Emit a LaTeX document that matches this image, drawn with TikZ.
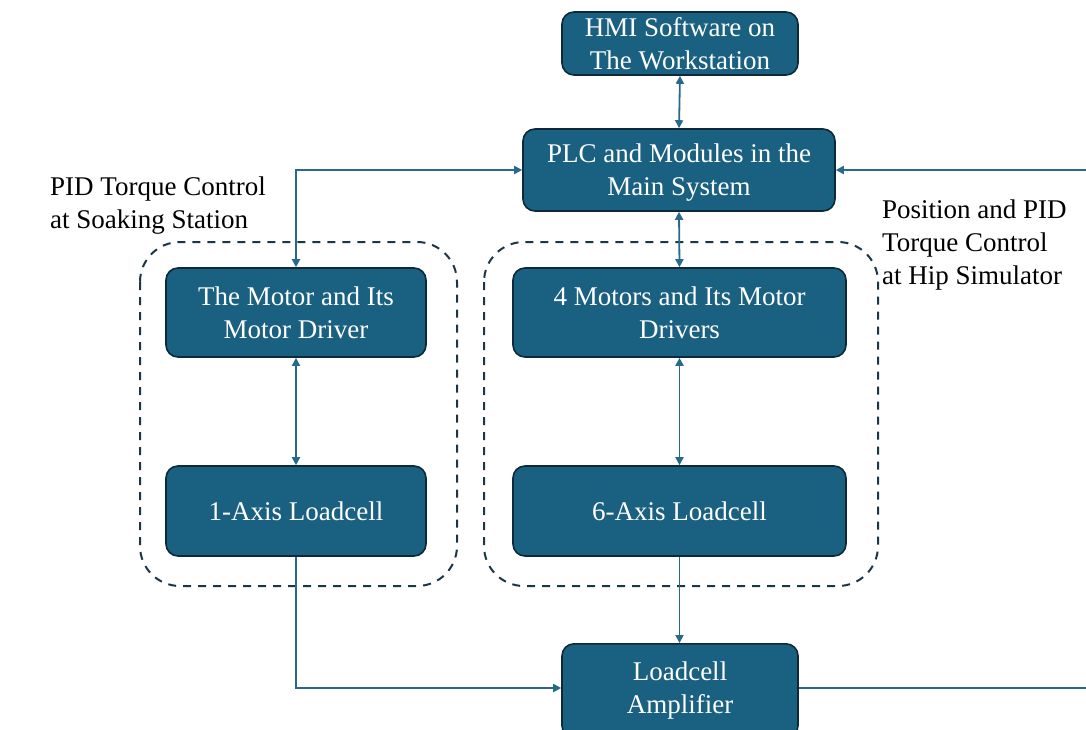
\documentclass[tikz,border=0pt]{standalone}
\usepackage{fontspec}
\setmainfont{Liberation Serif}
\usetikzlibrary{arrows.meta}
\definecolor{boxfill}{HTML}{1A6080}
\definecolor{boxline}{HTML}{0E2A3A}
\definecolor{arrowc}{HTML}{27698A}
\definecolor{dashc}{HTML}{1C3645}
\tikzset{
  blk/.style={draw=boxline, line width=1.6pt, fill=boxfill, rounded corners=12pt,
    text=white, align=center, inner sep=0pt,
    font=\fontsize{27}{33}\selectfont},
  btxt/.style={text=white, align=center, inner sep=0pt, font=\fontsize{27}{33}\selectfont},
  grp/.style={draw=dashc, line width=2pt, dash pattern=on 8pt off 7pt, rounded corners=40pt},
  lbl/.style={align=left, anchor=north west, inner sep=0pt, text=black,
    font=\fontsize{27}{33}\selectfont},
  conn/.style={draw=arrowc, line width=1.8pt},
  biarr/.style={conn, {Triangle[length=8pt,width=8pt]}-{Triangle[length=8pt,width=8pt]}},
  arr/.style={conn, -{Triangle[length=8pt,width=8pt]}}
}
\begin{document}
\begin{tikzpicture}[x=1pt,y=-1pt]
\useasboundingbox (0,0) rectangle (1086,729);
% groups
\draw[grp] (140,242) rectangle (457,586);
\draw[grp] (484,242) rectangle (878,586);
% blocks
\node[blk, minimum width=236pt, minimum height=63pt] (hmi) at (680,43.5) {HMI Software on\\The Workstation};
\node[blk, minimum width=312pt, minimum height=82pt] (plc) at (679,170) {};
\node[btxt] (plctxt) at (679,173) {PLC and Modules in the\\Main System};
\node[blk, minimum width=260pt, minimum height=89pt] (mot1) at (296,312.5) {The Motor and Its\\Motor Driver};
\node[blk, minimum width=260pt, minimum height=90pt] (lc1) at (296,511) {1-Axis Loadcell};
\node[blk, minimum width=333pt, minimum height=89pt] (mot4) at (679.5,312.5) {4 Motors and Its Motor\\Drivers};
\node[blk, minimum width=333pt, minimum height=90pt] (lc6) at (679.5,511) {6-Axis Loadcell};
\node[blk, minimum width=236pt, minimum height=94pt, anchor=north] (amp) at (680,643) {};
\node[btxt] (amptxt) at (680,690) {Loadcell\\Amplifier};
% labels
\node[lbl] (lblL) at (50,177) {PID Torque Control\\at Soaking Station};
\node[lbl] (lblR) at (882,200) {Position and PID\\Torque Control\\at Hip Simulator};
% connectors
\draw[biarr] (hmi.south) -- (plc.north);
\draw[biarr] (plc.south) -- (mot4.north);
\draw[biarr] (mot4.south) -- (lc6.north);
\draw[biarr] (mot1.south) -- (lc1.north);
\draw[biarr] (plc.west) -| (mot1.north);
\draw[arr] (lc6.south) -- (lc6.south |- amp.north);
\coordinate (ampin) at (amp.west |- 0,688);
\coordinate (ampout) at (amp.east |- 0,688);
\draw[arr] (lc1.south) |- (ampin);
\coordinate (edgeB) at (1086,688);
\coordinate (edgeT) at (1086,170);
\draw[conn] (ampout) -- (edgeB);
\draw[arr] (edgeT) -- (plc.east);
\end{tikzpicture}
\end{document}
